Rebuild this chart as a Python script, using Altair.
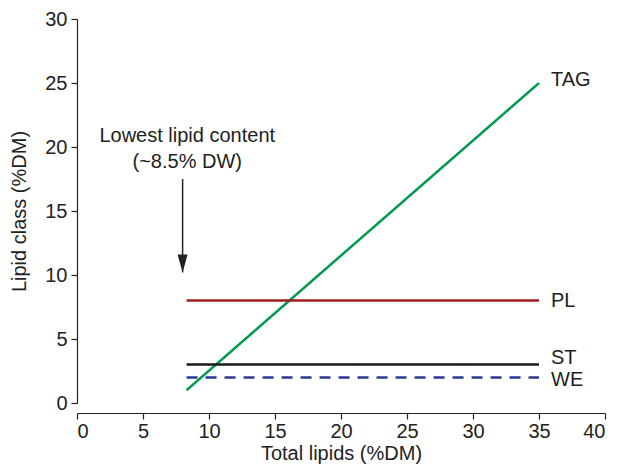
import altair as alt
import pandas as pd

# Lipid classes (straight-line relations)
classes = ["TAG", "PL", "ST", "WE"]
x_start = [8.3, 8.3, 8.3, 8.3]
x_end = [35, 35, 35, 35]
y_start = [1, 8, 3, 2]
y_end = [25, 8, 3, 2]
colors = ["#009a4e", "#9e1b20", "#1a1a1a", "#2a3a93"]

# annotation
arrow_x = [8]
arrow_top = [17.5]
arrow_tip = [10.2]
note_x = [8.35]
note_y = [20.4]
note_text = [["Lowest lipid content", "(~8.5% DW)"]]

x_ticks = [0, 5, 10, 15, 20, 25, 30, 35, 40]
y_ticks = [0, 5, 10, 15, 20, 25, 30]

FONT = "Liberation Sans"
TXT = "#222222"

df = pd.DataFrame({"cls": classes, "x": x_start, "x2": x_end, "y": y_start, "y2": y_end})
arrow_df = pd.DataFrame({"x": arrow_x, "top": arrow_top, "tip": arrow_tip})
note_df = pd.DataFrame({"x": note_x, "y": note_y, "t": note_text})

xs = alt.Scale(domain=[0, 40], nice=False, zero=False)
ys = alt.Scale(domain=[0, 30], nice=False, zero=False)

xaxis = alt.Axis(values=x_ticks, offset=10, title="Total lipids (%DM)", labelPadding=2,
                 titleY=46, titleBaseline="alphabetic")
yaxis = alt.Axis(values=y_ticks, title="Lipid class (%DM)", labelPadding=4,
                 titleX=-58, titleBaseline="middle")

lines = alt.Chart(df).mark_rule(strokeWidth=2.5).encode(
    x=alt.X("x:Q", scale=xs, axis=xaxis),
    x2="x2:Q",
    y=alt.Y("y:Q", scale=ys, axis=yaxis),
    y2="y2:Q",
    color=alt.Color("cls:N", scale=alt.Scale(domain=classes, range=colors), legend=None),
    strokeDash=alt.StrokeDash("cls:N", scale=alt.Scale(domain=classes, range=[[1, 0], [1, 0], [1, 0], [11, 8]]), legend=None),
)

label_dy = {"TAG": -3, "PL": 0, "ST": -7, "WE": 3}
labels = []
for c in classes:
    labels.append(
        alt.Chart(df).transform_filter(alt.datum.cls == c).mark_text(
            align="left", baseline="middle", dx=12, dy=label_dy[c], fontSize=20, font=FONT, color=TXT
        ).encode(x=alt.X("x2:Q", scale=xs), y=alt.Y("y2:Q", scale=ys), text="cls:N")
    )

arrow_line = alt.Chart(arrow_df).mark_rule(strokeWidth=1.5, color=TXT).encode(
    x=alt.X("x:Q", scale=xs), y=alt.Y("top:Q", scale=ys), y2="tip:Q"
)
arrow_head = alt.Chart(arrow_df).mark_point(
    shape="M-1,-3.6L1,-3.6L0,0Z", filled=True, size=100, color=TXT, opacity=1, strokeWidth=0
).encode(x=alt.X("x:Q", scale=xs), y=alt.Y("tip:Q", scale=ys))

note = alt.Chart(note_df).mark_text(
    align="center", baseline="alphabetic", fontSize=20, font=FONT, color=TXT, lineHeight=26
).encode(x=alt.X("x:Q", scale=xs), y=alt.Y("y:Q", scale=ys), text="t")

chart = alt.layer(lines, *labels, arrow_line, arrow_head, note).properties(
    width=528, height=384,
    autosize=alt.AutoSizeParams(type="none"),
    padding={"left": 69, "top": 11, "right": 11, "bottom": 61},
).configure_view(stroke=None).configure_axis(
    grid=False, domainColor=TXT, tickColor=TXT, tickSize=6, domainWidth=1.2, tickWidth=1.2,
    labelFont=FONT, labelFontSize=20, labelColor=TXT,
    titleFont=FONT, titleFontSize=20, titleFontWeight="normal", titleColor=TXT,
)

chart.save("out.html", embed_options={"renderer": "svg", "actions": False})
